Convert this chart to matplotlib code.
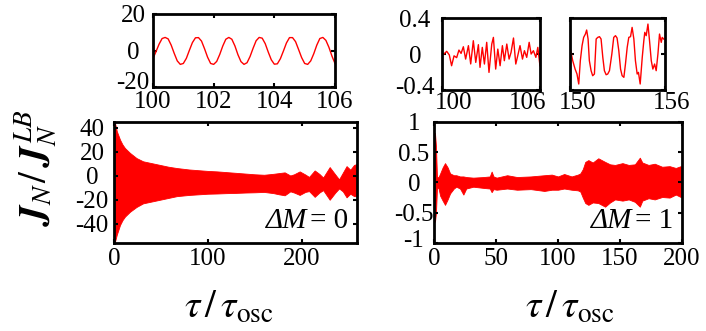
import numpy as np
import matplotlib
matplotlib.use('Agg')
import matplotlib.pyplot as plt
import matplotlib.transforms as mtrans

plt.rcParams['font.family'] = ['Liberation Serif', 'DejaVu Serif']
plt.rcParams['mathtext.fontset'] = 'stix'
plt.rcParams['axes.unicode_minus'] = False

RED = '#ff0000'

# --- main panel, Delta M = 0 : envelope of the dense oscillation ---
tau0 = [0, 1, 3, 6.4, 9, 11.7, 17, 24, 31, 40, 49, 58, 67, 80, 90, 100, 110, 120,
        130, 140, 150, 160, 170, 176, 182, 188, 192, 198, 204, 208, 214, 219, 223,
        230, 236, 240, 244, 248, 252, 256, 260]
up0 = [46, 44, 37, 30, 26, 23, 19, 14.7, 12, 10.5, 9, 7.5, 6.4, 5.2, 4.6, 4.0, 3.6, 3.0,
       2.4, 1.8, 1.2, 0.8, 1.6, 2.2, 2.8, 0.2, 1.2, 3.6, 1.0, -1.0, 4.4, 1.5, -1.5,
       7.2, 1.0, -3.0, 2.5, 8.0, 5.0, 9.0, 10.0]
lo0 = [-56, -55, -49, -41, -37, -34, -30, -26, -23, -21.5, -20, -18.5, -17, -16, -15.5, -15, -14.8, -14.5,
       -14.3, -14.0, -13.8, -13.5, -14.5, -15.5, -16.3, -13.0, -14.0, -16.0, -13.5, -12.8, -17.6, -14.0, -12.0,
       -20.0, -14.0, -10.6, -13.0, -18.0, -15.0, -17.0, -17.0]

# --- main panel, Delta M = 1 ---
tau1 = [0, 0.8, 1.6, 2.4, 3.5, 5, 7, 8.9, 11, 13, 16, 18, 21, 23.7, 26, 31.7, 40, 45,
        46.5, 48, 50.5, 59, 67, 78, 89, 95, 100, 105, 111, 116, 118, 120, 122, 124.5,
        128, 132.5, 138, 142, 146, 152, 157, 162, 166, 168, 173, 178, 184, 190, 195, 199, 200]
up1 = [0.0, 0.82, 0.6, 0.1, 0.08, 0.15, 0.25, 0.32, 0.25, 0.15, 0.12, 0.12, 0.10, 0.10, 0.09, 0.08, 0.09, 0.10,
       0.18, 0.10, 0.08, 0.12, 0.09, 0.10, 0.12, 0.13, 0.10, 0.14, 0.10, 0.13, 0.15, 0.22, 0.34, 0.37,
       0.33, 0.40, 0.34, 0.30, 0.29, 0.32, 0.29, 0.30, 0.41, 0.33, 0.29, 0.31, 0.26, 0.27, 0.24, 0.27, 0.25]
lo1 = [0.0, -0.65, -0.5, -0.1, -0.08, -0.22, -0.30, -0.37, -0.28, -0.18, -0.10, -0.07, -0.10, -0.20, -0.10, -0.07, -0.09, -0.10,
       -0.16, -0.11, -0.12, -0.10, -0.12, -0.11, -0.14, -0.12, -0.12, -0.10, -0.12, -0.13, -0.15, -0.25, -0.34, -0.37,
       -0.33, -0.34, -0.40, -0.33, -0.28, -0.30, -0.28, -0.32, -0.40, -0.30, -0.26, -0.28, -0.24, -0.25, -0.20, -0.24, -0.22]

# --- inset, Delta M = 0, tau 100..106 ---
ins0_t = [100.0, 100.1, 100.2, 100.3, 100.4, 100.5, 100.6, 100.7, 100.8, 100.9,
          101.0, 101.1, 101.2, 101.3, 101.4, 101.5, 101.6, 101.7, 101.8, 101.9,
          102.0, 102.1, 102.2, 102.3, 102.4, 102.5, 102.6, 102.7, 102.8, 102.9,
          103.0, 103.1, 103.2, 103.3, 103.4, 103.5, 103.6, 103.7, 103.8, 103.9,
          104.0, 104.1, 104.2, 104.3, 104.4, 104.5, 104.6, 104.7, 104.8, 104.9,
          105.0, 105.1, 105.2, 105.3, 105.4, 105.5, 105.6, 105.7, 105.8, 105.9, 106.0]
ins0_v = [-4.3, -0.5, 3.5, 6.6, 7.2, 6.4, 3.0, -1.5, -5.6, -7.5,
          -7.0, -4.2, 0.2, 4.4, 7.0, 7.1, 5.2, 1.0, -3.6, -7.0,
          -7.5, -5.9, -2.1, 2.5, 6.2, 7.2, 6.2, 2.6, -2.2, -6.0,
          -7.5, -6.6, -3.2, 1.3, 5.4, 7.2, 6.8, 3.8, -0.8, -5.0,
          -7.4, -7.2, -4.4, -0.2, 4.2, 7.1, 7.1, 4.9, 0.6, -3.8,
          -7.0, -7.5, -5.6, -1.7, 3.0, 6.6, 7.2, 5.6, 1.8, -3.0, -7.0]

# --- insets, Delta M = 1, tau 100..106 and 150..156 ---
ins1a_t = [100.12, 100.29, 100.45, 100.59, 100.74, 100.90, 101.04, 101.17, 101.31, 101.45,
           101.62, 101.76, 101.92, 102.07, 102.23, 102.33, 102.47, 102.60, 102.74, 102.88,
           103.05, 103.15, 103.29, 103.42, 103.56, 103.70, 103.82, 103.97, 104.11, 104.23,
           104.38, 104.52, 104.64, 104.78, 104.93, 105.05, 105.19, 105.34, 105.46, 105.60,
           105.75, 105.87, 106.0]
ins1a_v = [0.0, 0.03, -0.01, -0.13, -0.02, -0.04, 0.044, 0.007, 0.081, -0.056,
           0.093, -0.11, 0.148, -0.093, 0.104, -0.148, 0.074, -0.111, 0.13, -0.204,
           0.111, 0.185, -0.167, 0.055, -0.13, 0.093, -0.074, 0.111, -0.056, 0.018,
           0.178, -0.111, -0.019, 0.093, -0.056, 0.037, -0.037, 0.13, 0.0, 0.037,
           -0.037, 0.074, -0.13]
ins1b_t = [150.0, 150.17, 150.32, 150.44, 150.55, 150.65, 150.76, 150.86, 150.97, 151.05,
           151.14, 151.22, 151.33, 151.43, 151.54, 151.65, 151.75, 151.86, 151.96, 152.07,
           152.17, 152.28, 152.38, 152.49, 152.64, 152.76, 152.87, 152.97, 153.08, 153.19,
           153.29, 153.40, 153.50, 153.61, 153.71, 153.82, 153.92, 154.03, 154.13, 154.24,
           154.32, 154.43, 154.56, 154.66, 154.72, 154.81, 154.92, 155.02, 155.13, 155.23,
           155.34, 155.44, 155.55, 155.65, 155.76, 155.82, 155.91]
ins1b_v = [0.074, -0.074, -0.167, -0.222, -0.333, -0.074, 0.093, 0.185, 0.222, 0.267,
           0.167, -0.074, -0.185, -0.241, -0.222, 0.167, 0.185, 0.193, 0.167, -0.037,
           -0.185, -0.23, -0.222, -0.185, 0.0, 0.185, 0.204, 0.178, 0.037, -0.167,
           -0.241, -0.259, -0.111, 0.074, 0.185, 0.193, 0.296, 0.167, -0.074, -0.222,
           -0.204, -0.333, -0.037, 0.148, 0.241, 0.204, 0.333, 0.148, -0.074, -0.167,
           -0.111, -0.185, 0.0, 0.222, 0.13, 0.185, 0.167]

TICK_FS = 18


def style(ax, xpad, ypad):
    for s in ax.spines.values():
        s.set_linewidth(2.0)
    ax.tick_params(direction='in', top=True, right=True, length=3, width=1.5,
                   labelsize=TICK_FS)
    ax.tick_params(axis='x', pad=xpad)
    ax.tick_params(axis='y', pad=ypad)
    for lab in ax.get_yticklabels():
        lab.set_horizontalalignment('center')


def nudge(lab, dx, dy):
    lab.set_transform(lab.get_transform() +
                      mtrans.ScaledTranslation(dx / 100.0, dy / 100.0, fig.dpi_scale_trans))


def delta_m(ax, value):
    # italic "ΔM" followed by upright "= n", right-aligned in the lower corner
    rest = ax.text(0.965, 0.075, '= %d' % value, transform=ax.transAxes,
                   ha='right', va='bottom', fontsize=21)
    ax.annotate('ΔM', xy=(0, 0), xycoords=rest, xytext=(-2, 0),
                textcoords='offset points', ha='right', va='bottom',
                fontsize=21, fontstyle='italic')


fig = plt.figure(figsize=(7.06, 3.31), dpi=100)

ax0 = fig.add_axes([0.1615, 0.2659, 0.344, 0.3665])
ax0.fill_between(tau0, lo0, up0, color=RED, lw=0.6, edgecolor=RED)
ax0.set_xlim(0, 259)
ax0.set_ylim(-56, 45)
ax0.set_xticks([0, 100, 200])
ax0.set_yticks([-40, -20, 0, 20, 40])
style(ax0, 3.5, 15.8)
delta_m(ax0, 0)
ax0.set_xlabel(r'$\tau\,/\,\tau_{\rm osc}$', fontsize=28)
ax0.xaxis.set_label_coords(0.473, -0.39)
ax0.set_ylabel(r'$\mathbfit{J}_N\!\:/\:\mathbfit{J}_N^{\,LB}$', fontsize=28)
ax0.yaxis.set_label_coords(-0.225, 0.62)

ax1 = fig.add_axes([0.6147, 0.2659, 0.3513, 0.3656])
ax1.fill_between(tau1, lo1, up1, color=RED, lw=0.6, edgecolor=RED)
ax1.set_xlim(0, 200)
ax1.set_ylim(-1, 1)
ax1.set_xticks([0, 50, 100, 150, 200])
ax1.set_yticks([-1, -0.5, 0, 0.5, 1])
ax1.set_yticklabels(['-1', '-0.5', '0', '0.5', '1'])
style(ax1, 3.5, 14.4)
nudge(ax1.get_yticklabels()[0], 0, 4)
delta_m(ax1, 1)
ax1.set_xlabel(r'$\tau\,/\,\tau_{\rm osc}$', fontsize=28)
ax1.xaxis.set_label_coords(0.548, -0.39)

axi0 = fig.add_axes([0.2167, 0.7363, 0.2578, 0.2215])
axi0.plot(ins0_t, ins0_v, color=RED, lw=1.0)
axi0.set_xlim(100, 106)
axi0.set_ylim(-20, 20)
axi0.set_xticks([100, 102, 104, 106])
axi0.set_yticks([-20, 0, 20])
style(axi0, 3.0, 14.4)
nudge(axi0.get_yticklabels()[0], 0, 7)

axi1 = fig.add_axes([0.626, 0.728, 0.1388, 0.2175])
axi1.plot(ins1a_t, ins1a_v, color=RED, lw=1.0)
axi1.set_xlim(100, 106)
axi1.set_ylim(-0.4, 0.4)
axi1.set_xticks([100, 106])
axi1.set_yticks([-0.4, 0, 0.4])
axi1.set_yticklabels(['-0.4', '0', '0.4'])
style(axi1, 1.5, 19.4)
nudge(axi1.get_yticklabels()[0], 0, 5)
for lab, dx in zip(axi1.get_xticklabels(), [12, -12]):
    nudge(lab, dx, 0)

axi2 = fig.add_axes([0.8074, 0.728, 0.1346, 0.2175])
axi2.plot(ins1b_t, ins1b_v, color=RED, lw=1.0)
axi2.set_xlim(150, 156)
axi2.set_ylim(-0.4, 0.4)
axi2.set_xticks([150, 156])
axi2.set_yticks([-0.4, 0, 0.4])
style(axi2, 1.5, 14.4)
axi2.tick_params(labelleft=False)
for lab, dx in zip(axi2.get_xticklabels(), [8, 7]):
    nudge(lab, dx, 0)

fig.savefig('out.png', dpi=100)
